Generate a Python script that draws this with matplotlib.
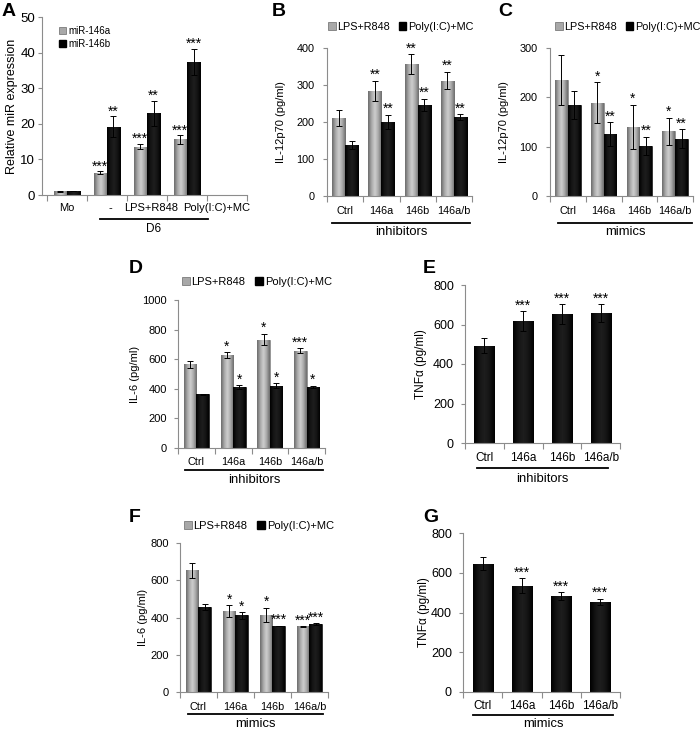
import numpy as np
import matplotlib
matplotlib.use("Agg")
import matplotlib.pyplot as plt
from matplotlib.patches import Patch
from matplotlib.colors import LinearSegmentedColormap

plt.rcParams['font.family'] = ['Liberation Sans', 'DejaVu Sans']

# ---------------- data ----------------
A_cats = ["Mo", "-", "LPS+R848", "Poly(I:C)+MC"]
A_146a = [1.0, 6.3, 13.6, 15.6]
A_146a_err = [0.2, 0.4, 0.8, 1.2]
A_146b = [1.1, 19.2, 22.9, 37.4]
A_146b_err = [0.1, 2.9, 3.5, 3.6]
A_146a_sig = ["", "***", "***", "***"]
A_146b_sig = ["", "**", "**", "***"]

cats = ["Ctrl", "146a", "146b", "146a/b"]

B_lps = [211, 285, 357, 312]
B_lps_err = [21, 27, 27, 24]
B_poly = [138, 200, 247, 214]
B_poly_err = [11, 20, 16, 8]
B_lps_sig = ["", "**", "**", "**"]
B_poly_sig = ["", "**", "**", "**"]

C_lps = [235, 189, 140, 131]
C_lps_err = [50, 42, 45, 28]
C_poly = [185, 126, 102, 116]
C_poly_err = [28, 24, 18, 19]
C_lps_sig = ["", "*", "*", "*"]
C_poly_sig = ["", "**", "**", "**"]

D_lps = [566, 627, 733, 657]
D_lps_err = [23, 21, 40, 18]
D_poly = [363, 411, 420, 415]
D_poly_err = [5, 13, 16, 7]
D_lps_sig = ["", "*", "*", "***"]
D_poly_sig = ["", "*", "*", "*"]

E_tnf = [492, 618, 653, 657]
E_tnf_err = [38, 49, 52, 45]
E_sig = ["", "***", "***", "***"]

F_lps = [653, 435, 415, 352]
F_lps_err = [39, 32, 38, 3]
F_poly = [456, 411, 354, 365]
F_poly_err = [16, 18, 2, 4]
F_lps_sig = ["", "*", "*", "***"]
F_poly_sig = ["", "*", "***", "***"]

G_tnf = [645, 534, 483, 453]
G_tnf_err = [32, 38, 19, 17]
G_sig = ["", "***", "***", "***"]

# ---------------- style ----------------
W, H = 700, 730
fig = plt.figure(figsize=(7.0, 7.3), dpi=100)

grey_cmap = LinearSegmentedColormap.from_list(
    "cyl", ["#6a6a6a", "#a8a8a8", "#cfcfcf", "#a8a8a8", "#6a6a6a"])
black_cmap = LinearSegmentedColormap.from_list(
    "cylb", ["#000000", "#141414", "#1e1e1e", "#141414", "#000000"])
SPINE = "#8c8c8c"
STAR = 10


def mkax(l, r, t, b):
    return fig.add_axes([l / W, 1 - b / H, (r - l) / W, (b - t) / H])


def shade(ax, bars, cmap):
    grad = np.linspace(0, 1, 64).reshape(1, -1)
    for p in bars.patches:
        x0, y0 = p.get_x(), p.get_y()
        im = ax.imshow(grad, cmap=cmap, aspect="auto", interpolation="bicubic",
                       extent=[x0, x0 + p.get_width(), y0, y0 + p.get_height()],
                       zorder=p.get_zorder())
        im.set_clip_path(p)


def style(ax, n, ymax, step, tsize, pad, xl=None):
    ax.set_xlim(*(xl if xl else (-0.5, n - 0.5)))
    ax.set_ylim(0, ymax)
    ax.set_yticks(np.arange(0, ymax + step / 2, step))
    for s in ["top", "right"]:
        ax.spines[s].set_visible(False)
    for s in ["left", "bottom"]:
        ax.spines[s].set_color(SPINE)
        ax.spines[s].set_linewidth(0.8)
    ax.set_xticks(np.arange(-0.5, n, 1.0))
    ax.set_xticklabels([])
    ax.tick_params(axis="x", which="major", length=4, color=SPINE, direction="out")
    ax.tick_params(axis="y", length=3, color=SPINE, labelsize=tsize, pad=pad)
    ax.set_facecolor("none")


def ylab(ax, text, size, right_px):
    ax.set_ylabel(text, fontsize=size)
    ax.yaxis.set_label_coords(right_px / W, 0.5,
                              transform=matplotlib.transforms.blended_transform_factory(
                                  fig.transFigure, ax.transAxes))


def xlabels(ax, labels, ypix, size, shifts=None):
    for i, lab in enumerate(labels):
        xd = ax.transData.transform((i, 0))[0]
        if shifts is not None:
            xd += shifts[i]
        fig.text(xd / W, 1 - ypix / H, lab, ha="center", va="center", fontsize=size)


def group_line(x0, x1, yline, label, ytext, size=9.4):
    fig.add_artist(plt.Line2D([x0 / W, x1 / W], [1 - yline / H, 1 - yline / H],
                              color="black", lw=1.3))
    fig.text((x0 + x1) / 2 / W, 1 - ytext / H, label, ha="center", va="center",
             fontsize=size)


def grouped(ax, lps, lpse, poly, polye, lsig, psig, w, starpad):
    x = np.arange(len(lps))
    b1 = ax.bar(x - w / 2, lps, w, color="#a8a8a8", edgecolor="#6a6a6a", lw=0.4, zorder=2)
    shade(ax, b1, grey_cmap)
    b2 = ax.bar(x + w / 2, poly, w, color="black", edgecolor="black", lw=0.4, zorder=2)
    shade(ax, b2, black_cmap)
    ax.errorbar(x - w / 2, lps, yerr=lpse, fmt="none", ecolor="black", elinewidth=0.7,
                capsize=2.5, capthick=0.7, zorder=3)
    ax.errorbar(x + w / 2, poly, yerr=polye, fmt="none", ecolor="black", elinewidth=0.7,
                capsize=2.5, capthick=0.7, zorder=3)
    for i in range(len(lps)):
        if lsig[i]:
            ax.text(x[i] - w / 2, lps[i] + lpse[i] + starpad, lsig[i], ha="center",
                    va="bottom", fontsize=STAR, zorder=4)
        if psig[i]:
            ax.text(x[i] + w / 2, poly[i] + polye[i] + starpad, psig[i], ha="center",
                    va="bottom", fontsize=STAR, zorder=4)


def legend_h(labels, xpix, ypix, size, colsp):
    hs = [Patch(facecolor="#a8a8a8", edgecolor="#6a6a6a", lw=0.5),
          Patch(facecolor="black", edgecolor="black")]
    fig.legend(hs, labels, loc="center left", bbox_to_anchor=(xpix / W, 1 - ypix / H),
               ncol=2, frameon=False, fontsize=size, handlelength=0.7,
               handleheight=0.7, handletextpad=0.15, columnspacing=colsp,
               borderaxespad=0, borderpad=0)


def single(ax, vals, errs, sig, w, starpad):
    x = np.arange(len(vals))
    b = ax.bar(x, vals, w, color="black", edgecolor="black", lw=0.4, zorder=2)
    shade(ax, b, black_cmap)
    ax.errorbar(x, vals, yerr=errs, fmt="none", ecolor="black", elinewidth=0.7,
                capsize=2.5, capthick=0.7, zorder=3)
    for i in range(len(vals)):
        if sig[i]:
            ax.text(x[i], vals[i] + errs[i] + starpad, sig[i], ha="center",
                    va="bottom", fontsize=STAR, zorder=4)


def letter(text, xpix, ypix):
    fig.text(xpix / W, 1 - ypix / H, text, fontsize=14, fontweight="bold",
             ha="left", va="center")


# ---------------- Panel A ----------------
axA = mkax(42, 247, 17, 195)
style(axA, 5, 50, 10, 9.5, 2, xl=(-0.62, 4.38))
grouped(axA, A_146a, A_146a_err, A_146b, A_146b_err, A_146a_sig, A_146b_sig, 0.33, -0.6)
ylab(axA, "Relative miR expression", 9, 18)
fig.canvas.draw()
xlabels(axA, A_cats, 208, 8, shifts=[0, 4, 4, 30])
group_line(100, 208, 219, "D6", 229, size=8.5)
hsA = [Patch(facecolor="#a8a8a8", edgecolor="#6a6a6a", lw=0.5),
       Patch(facecolor="black", edgecolor="black")]
axA.legend(hsA, ["miR-146a", "miR-146b"], loc="upper left",
           bbox_to_anchor=(0.085, 0.95), frameon=False, fontsize=7,
           handlelength=0.7, handleheight=0.7, handletextpad=0.2, labelspacing=0.3,
           borderaxespad=0, borderpad=0)
letter("A", 2, 12)

# ---------------- Panel B ----------------
axB = mkax(327, 472, 48, 196)
style(axB, 4, 400, 100, 7.8, 6)
grouped(axB, B_lps, B_lps_err, B_poly, B_poly_err, B_lps_sig, B_poly_sig, 0.36, -4)
ylab(axB, "IL-12p70 (pg/ml)", 8, 286)
fig.canvas.draw()
xlabels(axB, cats, 211, 7.8)
group_line(332, 470, 223, "inhibitors", 232)
legend_h(["LPS+R848", "Poly(I:C)+MC"], 328, 27, 7.8, 0.8)
letter("B", 272, 12)

# ---------------- Panel C ----------------
axC = mkax(550, 693, 48, 196)
style(axC, 4, 300, 100, 7.8, 6)
grouped(axC, C_lps, C_lps_err, C_poly, C_poly_err, C_lps_sig, C_poly_sig, 0.36, -3)
ylab(axC, "IL-12p70 (pg/ml)", 8, 509)
fig.canvas.draw()
xlabels(axC, cats, 211, 7.8)
group_line(558, 692, 223, "mimics", 232)
legend_h(["LPS+R848", "Poly(I:C)+MC"], 555, 27, 7.8, 0.8)
letter("C", 498, 12)

# ---------------- Panel D ----------------
axD = mkax(178, 325, 300, 448)
style(axD, 4, 1000, 200, 8, 5)
grouped(axD, D_lps, D_lps_err, D_poly, D_poly_err, D_lps_sig, D_poly_sig, 0.34, -10)
ylab(axD, "IL-6 (pg/ml)", 8, 140)
fig.canvas.draw()
xlabels(axD, cats, 462, 7.8)
group_line(185, 323, 470, "inhibitors", 480)
legend_h(["LPS+R848", "Poly(I:C)+MC"], 182, 282, 8, 0.9)
letter("D", 129, 268)

# ---------------- Panel E ----------------
axE = mkax(465, 620, 285, 443)
style(axE, 4, 800, 200, 9, 5)
single(axE, E_tnf, E_tnf_err, E_sig, 0.52, -8)
ylab(axE, "TNF\u03b1 (pg/ml)", 8.5, 427)
fig.canvas.draw()
xlabels(axE, cats, 458, 8.5)
group_line(477, 608, 468, "inhibitors", 479)
letter("E", 423, 268)

# ---------------- Panel F ----------------
axF = mkax(180, 328, 543, 692)
style(axF, 4, 800, 200, 8, 5)
grouped(axF, F_lps, F_lps_err, F_poly, F_poly_err, F_lps_sig, F_poly_sig, 0.34, -8)
ylab(axF, "IL-6 (pg/ml)", 8, 148)
fig.canvas.draw()
xlabels(axF, cats, 707, 7.8)
group_line(188, 323, 714, "mimics", 724)
legend_h(["LPS+R848", "Poly(I:C)+MC"], 184, 526, 8, 0.9)
letter("F", 129, 518)

# ---------------- Panel G ----------------
axG = mkax(463, 620, 533, 692)
style(axG, 4, 800, 200, 9, 5)
single(axG, G_tnf, G_tnf_err, G_sig, 0.51, -8)
ylab(axG, "TNF\u03b1 (pg/ml)", 8.5, 430)
fig.canvas.draw()
xlabels(axG, cats, 706, 8.5)
group_line(473, 613, 715, "mimics", 724)
letter("G", 423, 518)

fig.savefig("out.png", dpi=100, facecolor="white")
